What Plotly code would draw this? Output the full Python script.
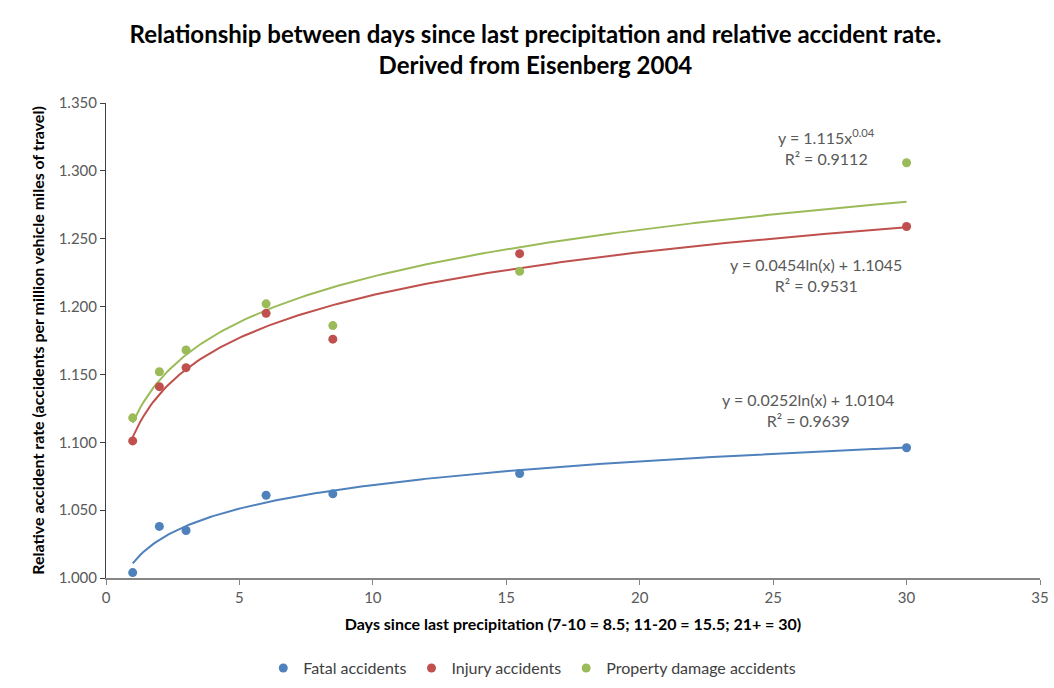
import numpy as np
import plotly.graph_objects as go

days = [1, 2, 3, 6, 8.5, 15.5, 30]
fatal = [1.004, 1.038, 1.035, 1.061, 1.062, 1.077, 1.096]
injury = [1.101, 1.141, 1.155, 1.195, 1.176, 1.239, 1.259]
property_dmg = [1.118, 1.152, 1.168, 1.202, 1.186, 1.226, 1.306]

names = ["Fatal accidents", "Injury accidents", "Property damage accidents"]
colors = ["#4F81BD", "#C0504D", "#9BBB59"]
fit_types = ["log", "log", "power"]
eq_texts = [
    "y = 0.0252ln(x) + 1.0104<br>R² = 0.9639",
    "y = 0.0454ln(x) + 1.1045<br>R² = 0.9531",
    "y = 1.115x<sup>0.04</sup><br>R² = 0.9112",
]
eq_pos = [(26.3, 1.1238), (26.6, 1.2233), (27.0, 1.3176)]

x = np.array(days, dtype=float)
xs = np.linspace(x.min(), x.max(), 300)

fig = go.Figure()
for ys, name, col, ft in zip([fatal, injury, property_dmg], names, colors, fit_types):
    y = np.array(ys)
    if ft == "log":
        b, a = np.polyfit(np.log(x), y, 1)
        yf = a + b * np.log(xs)
    else:
        b, la = np.polyfit(np.log(x), np.log(y), 1)
        yf = np.exp(la) * xs ** b
    fig.add_trace(go.Scatter(x=xs, y=yf, mode="lines", line=dict(color=col, width=2),
                             showlegend=False, hoverinfo="skip"))
for ys, name, col in zip([fatal, injury, property_dmg], names, colors):
    fig.add_trace(go.Scatter(x=days, y=ys, mode="markers", name=name,
                             marker=dict(color=col, size=9)))

for (ex, ey), txt in zip(eq_pos, eq_texts):
    fig.add_annotation(x=ex, y=ey, xref="x", yref="y", text=txt, showarrow=False,
                       font=dict(size=16, color="#595959", family="Lato"), align="center")

fig.update_layout(
    width=1054, height=688,
    margin=dict(l=106, r=14, t=103, b=110),
    paper_bgcolor="white", plot_bgcolor="white",
    font=dict(family="Lato", color="#595959", size=15),
    title=dict(text="<b>Relationship between days since last precipitation and relative accident rate.<br>Derived from Eisenberg 2004</b>",
               x=0.508, xanchor="center", yref="container", y=0.938, yanchor="middle",
               font=dict(size=24, color="black", family="Lato")),
    legend=dict(orientation="h", xref="container", x=0.505, xanchor="center",
                yref="container", y=0.029, yanchor="middle",
                font=dict(size=16, color="#404040"), itemwidth=30),
    xaxis=dict(range=[0, 35], dtick=5, showgrid=False, zeroline=False, automargin=False,
               showline=True, linecolor="#868686", linewidth=1.5,
               ticks="outside", tickcolor="#868686", ticklen=5,
               title=dict(text="<b>Days since last precipitation (7-10 = 8.5; 11-20 = 15.5; 21+ = 30)</b>",
                          font=dict(size=16, color="black"), standoff=14)),
    yaxis=dict(range=[1.0, 1.35], dtick=0.05, tickformat=".3f", showgrid=False, zeroline=False,
               automargin=False,
               showline=True, linecolor="#404040", linewidth=1,
               ticks="outside", tickcolor="#404040", ticklen=5,
               title=dict(text="<b>Relative accident rate (accidents per million vehicle miles of travel)</b>",
                          font=dict(size=16, color="black"), standoff=10)),
)

fig.write_html("out.html")
